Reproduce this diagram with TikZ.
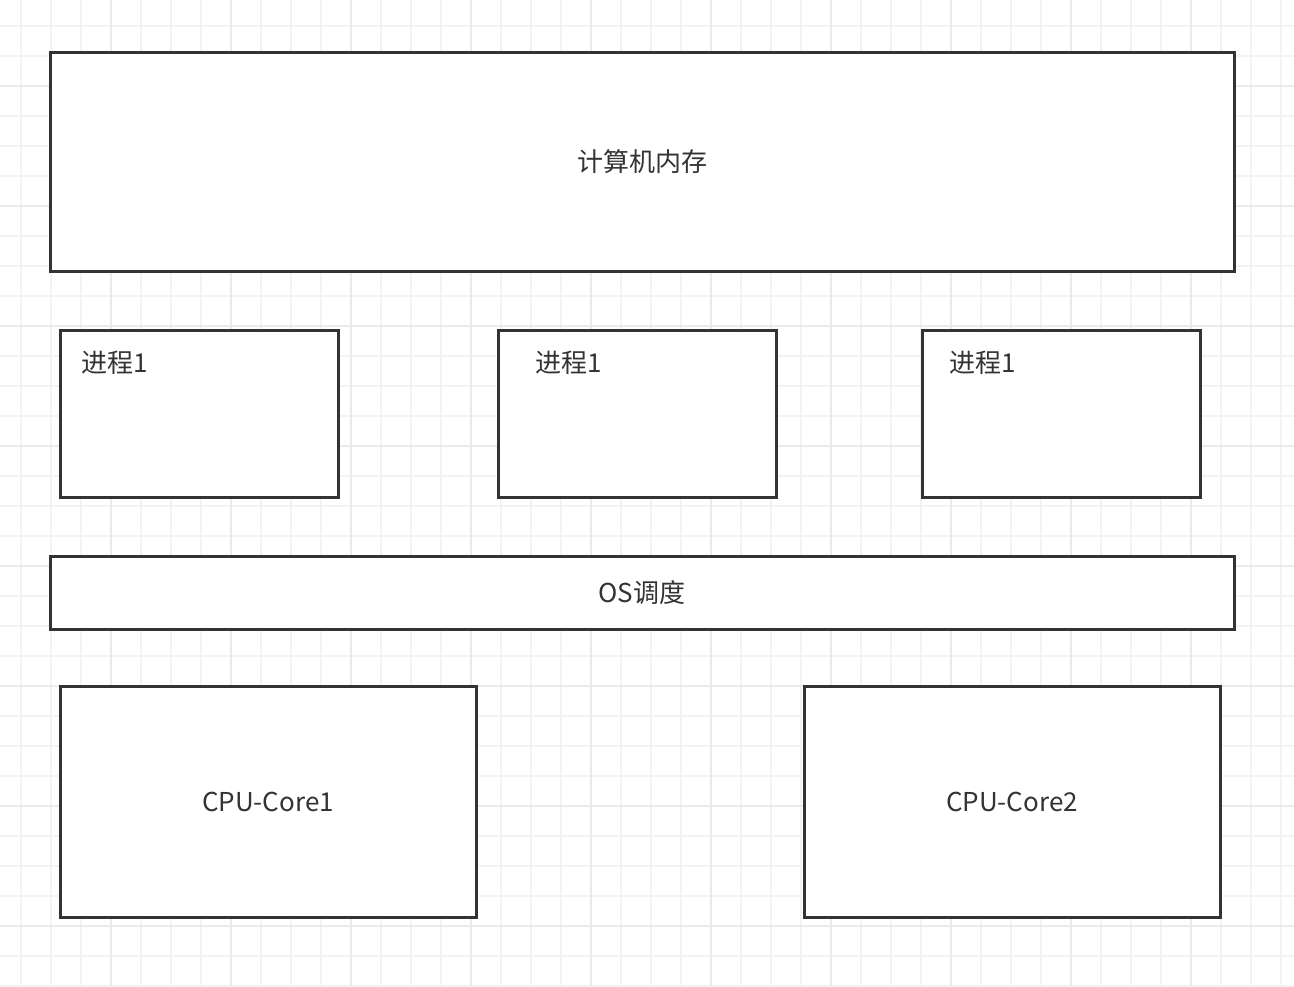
\documentclass[tikz,border=0pt]{standalone}
\usepackage{fontspec}
\setmainfont{Noto Sans CJK SC}
\definecolor{gridminor}{HTML}{F3F3F3}
\definecolor{gridmajor}{HTML}{EAEAEA}
\definecolor{boxline}{HTML}{333333}
\begin{document}
\begin{tikzpicture}[x=1pt,y=-1pt,
box/.style={draw=boxline,line width=3pt,fill=white,outer sep=0pt,inner sep=0pt,
anchor=north west,text=boxline,font=\fontsize{26}{30}\selectfont},
proclabel/.style={anchor=west,inner sep=0pt,text=boxline,font=\fontsize{26}{30}\selectfont}]
\useasboundingbox (0,0) rectangle (1294,986);
\fill[white] (0,0) rectangle (1294,986);
% grid
\foreach \gx in {21,51,...,1291} \draw[gridminor,line width=2pt] (\gx,0) -- (\gx,986);
\foreach \gy in {26,56,...,986} \draw[gridminor,line width=2pt] (0,\gy) -- (1294,\gy);
\foreach \gx in {111,231,...,1191} \draw[gridmajor,line width=2pt] (\gx,0) -- (\gx,986);
\foreach \gy in {86,206,...,926} \draw[gridmajor,line width=2pt] (0,\gy) -- (1294,\gy);
% boxes
\node[box,minimum width=1184pt,minimum height=219pt] (mem) at (50,52) {\raisebox{-2pt}{计算机内存}};
\node[box,minimum width=278pt,minimum height=167pt,
label={[proclabel,xshift=21pt,yshift=-33pt]north west:进程1}] (proc1) at (60,330) {};
\node[box,minimum width=278pt,minimum height=167pt,
label={[proclabel,xshift=37pt,yshift=-33pt]north west:进程1}] (proc2) at (498,330) {};
\node[box,minimum width=278pt,minimum height=167pt,
label={[proclabel,xshift=27pt,yshift=-33pt]north west:进程1}] (proc3) at (922,330) {};
\node[box,minimum width=1184pt,minimum height=73pt] (os) at (50,556) {\raisebox{-2pt}{OS调度}};
\node[box,minimum width=416pt,minimum height=231pt] (core1) at (60,686) {CPU-Core1};
\node[box,minimum width=416pt,minimum height=231pt] (core2) at (804,686) {CPU-Core2};
\end{tikzpicture}
\end{document}
